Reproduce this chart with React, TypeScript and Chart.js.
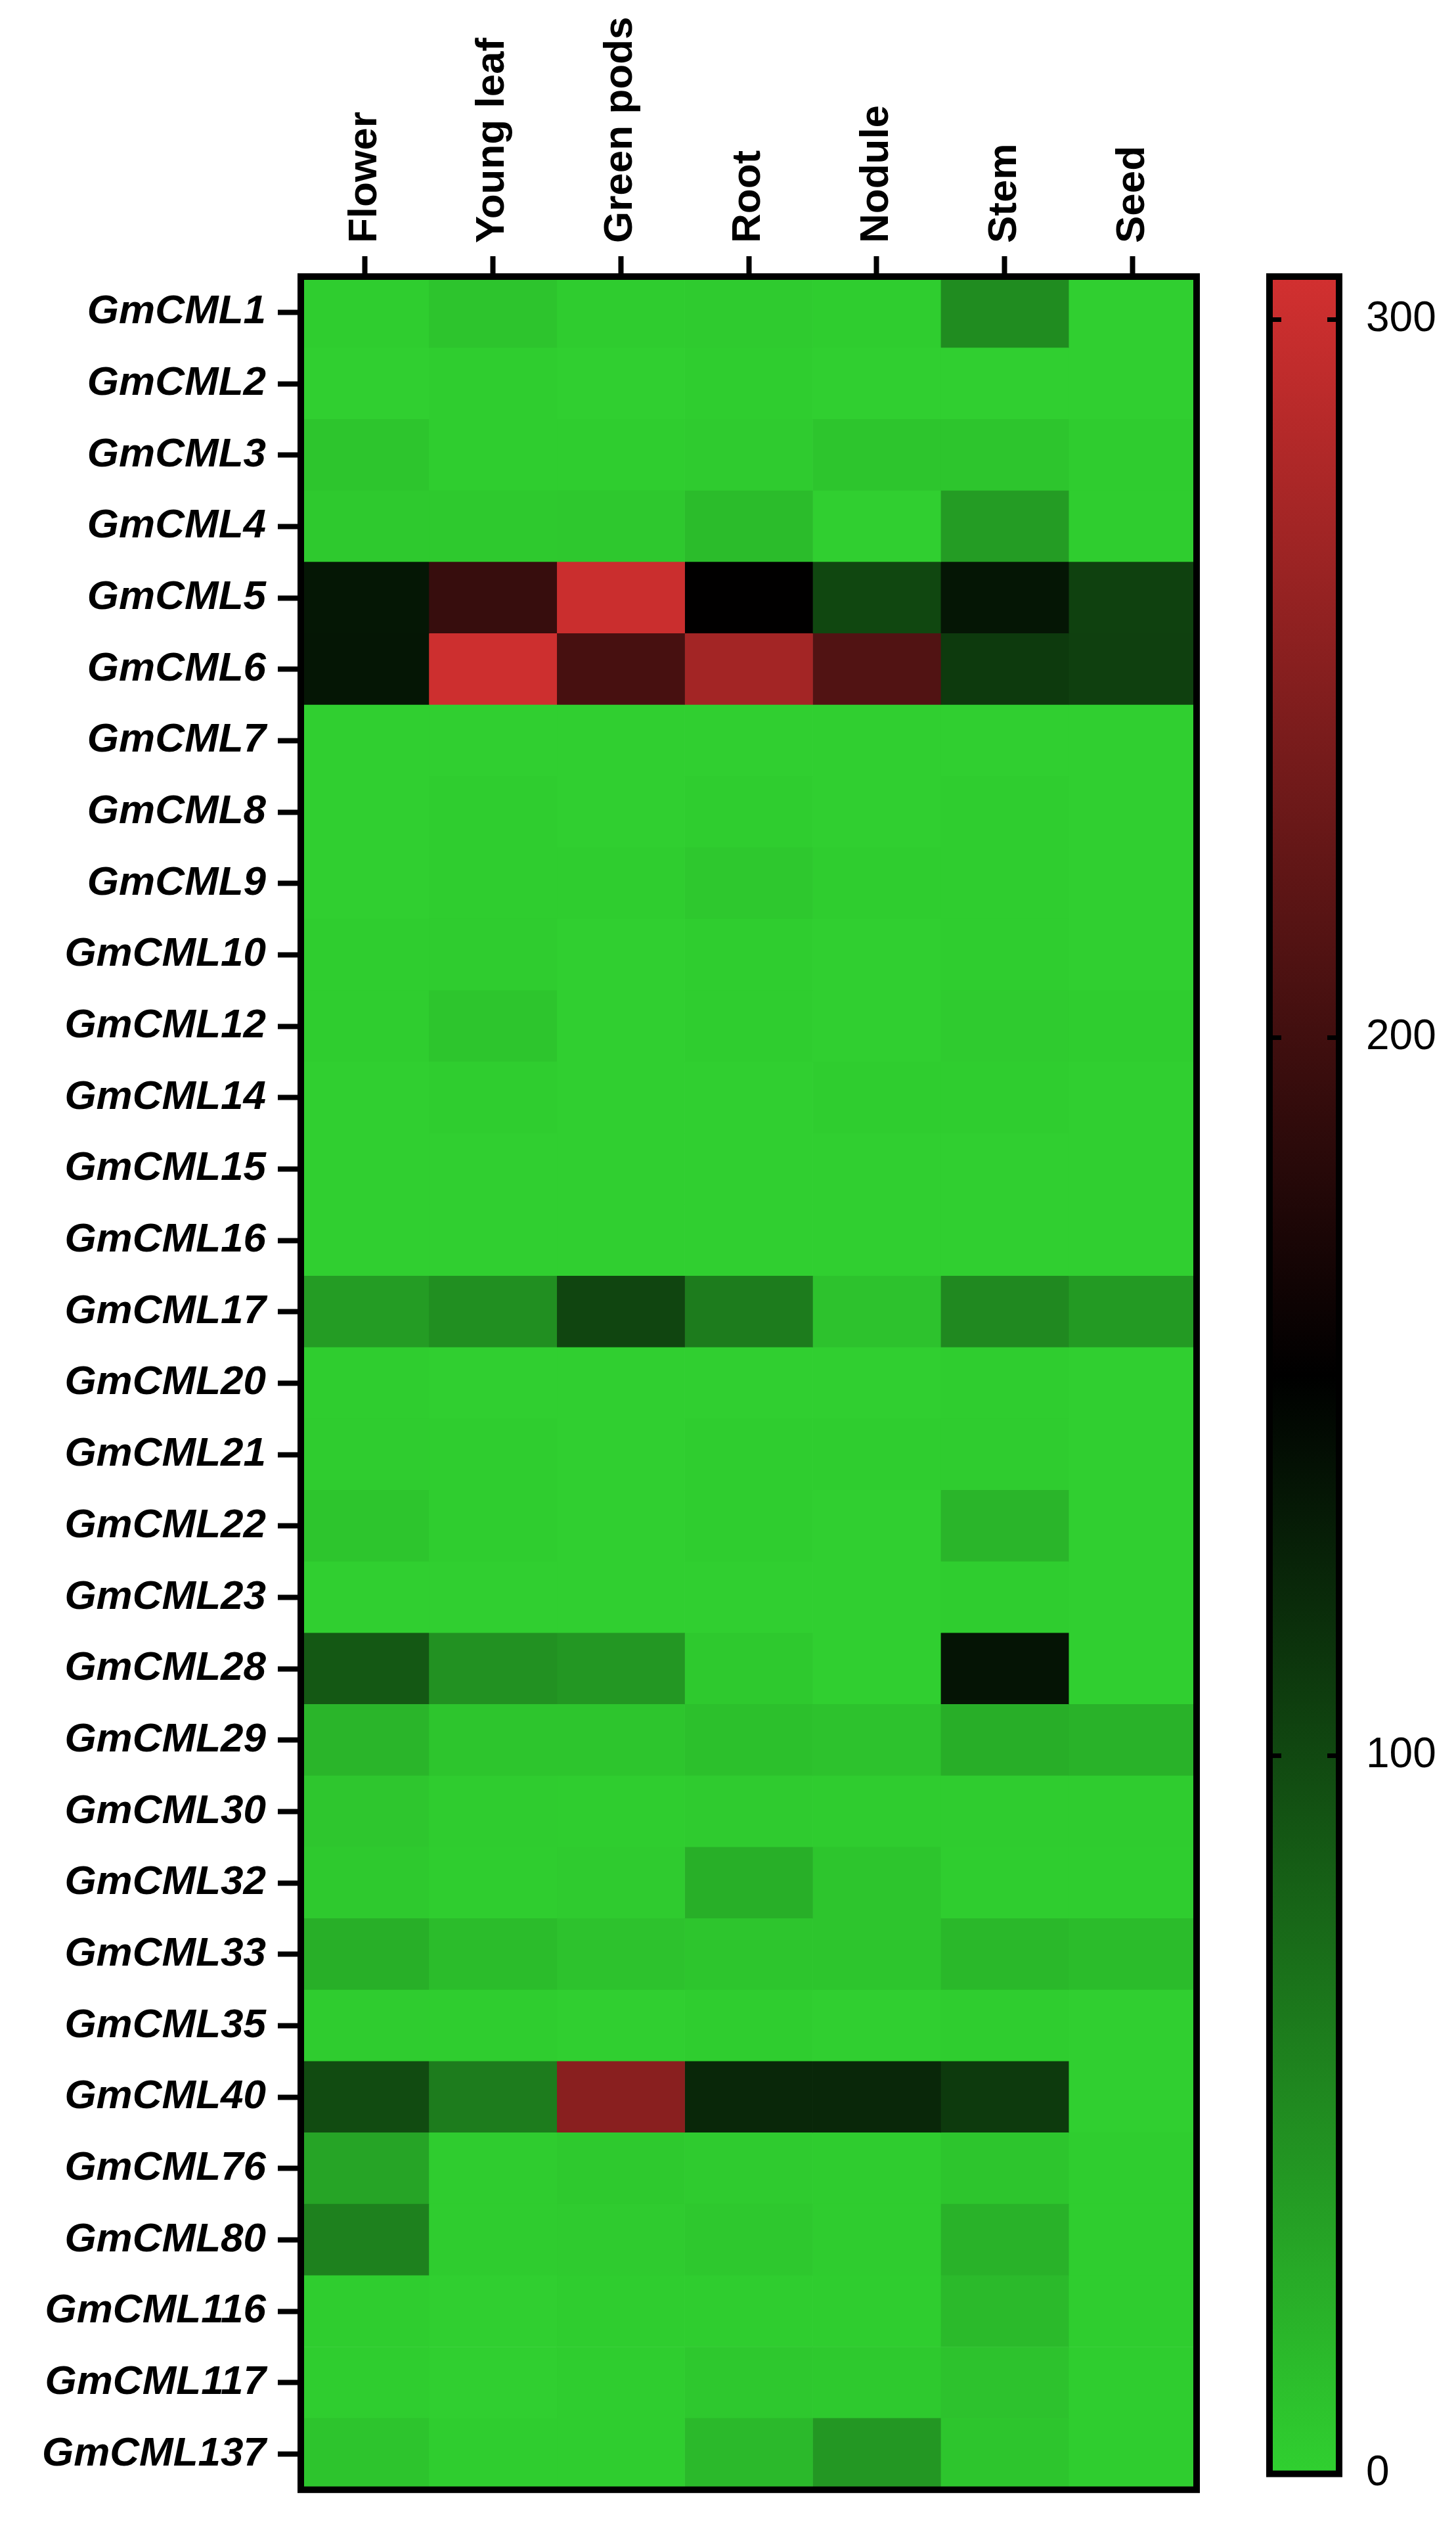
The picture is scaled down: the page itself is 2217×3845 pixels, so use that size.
import React, { useEffect, useRef } from "react";
import { Chart, registerables } from "chart.js";

Chart.register(...registerables);

const tissues = ["Flower", "Young leaf", "Green pods", "Root", "Nodule", "Stem", "Seed"];

const genes = [
  "GmCML1", "GmCML2", "GmCML3", "GmCML4", "GmCML5", "GmCML6", "GmCML7", "GmCML8",
  "GmCML9", "GmCML10", "GmCML12", "GmCML14", "GmCML15", "GmCML16", "GmCML17", "GmCML20",
  "GmCML21", "GmCML22", "GmCML23", "GmCML28", "GmCML29", "GmCML30", "GmCML32", "GmCML33",
  "GmCML35", "GmCML40", "GmCML76", "GmCML80", "GmCML116", "GmCML117", "GmCML137",
];

const flower = [2, 1, 8, 5, 136, 137, 1, 1, 1, 2, 2, 1, 1, 1, 38, 2, 3, 8, 1, 88, 20, 7, 5, 24, 3, 98, 32, 58, 2, 2, 9];
const youngLeaf = [9, 2, 2, 5, 193, 302, 1, 2, 2, 3, 8, 2, 1, 1, 48, 1, 2, 2, 1, 46, 8, 3, 2, 15, 2, 62, 3, 3, 1, 1, 2];
const greenPods = [3, 1, 2, 6, 300, 205, 1, 1, 2, 1, 1, 1, 1, 1, 102, 1, 1, 1, 1, 42, 8, 2, 4, 10, 1, 253, 5, 4, 2, 2, 2];
const root = [4, 2, 4, 15, 154, 272, 1, 2, 6, 2, 2, 1, 1, 1, 62, 1, 2, 2, 1, 5, 12, 4, 24, 8, 2, 124, 4, 6, 2, 6, 17];
const nodule = [2, 1, 8, 1, 101, 212, 1, 1, 2, 1, 1, 2, 1, 1, 10, 1, 2, 1, 1, 1, 10, 3, 8, 8, 1, 124, 3, 3, 2, 5, 42];
const stem = [50, 1, 8, 38, 137, 110, 1, 2, 2, 2, 4, 2, 1, 1, 52, 2, 3, 20, 2, 138, 25, 3, 2, 18, 2, 110, 8, 22, 16, 10, 8];
const seed = [1, 1, 3, 2, 105, 106, 1, 1, 1, 1, 2, 1, 1, 1, 40, 1, 1, 1, 1, 1, 22, 3, 2, 15, 1, 1, 2, 2, 2, 2, 2];

const tissueValues = [flower, youngLeaf, greenPods, root, nodule, stem, seed];

const colorbarTicks = [0, 100, 200, 300];
const colorMin = 0;
const colorMid = 153;
const colorMax = 306;
const lowColor = [48, 208, 48];
const midColor = [0, 0, 0];
const highColor = [210, 48, 48];

const FONT = "'Liberation Sans', Arial, Helvetica, sans-serif";
const X_FONT_SIZE = 62;
const X_LINE_HEIGHT = 1.2;

function mix(a: number[], b: number[], t: number) {
  const c = a.map((v, i) => Math.round(v + (b[i] - v) * t));
  return `rgb(${c[0]},${c[1]},${c[2]})`;
}

function colorFor(v: number) {
  if (v <= colorMid) {
    return mix(lowColor, midColor, Math.max(0, (v - colorMin) / (colorMid - colorMin)));
  }
  return mix(midColor, highColor, Math.min(1, (v - colorMid) / (colorMax - colorMid)));
}

const framePlugin = {
  id: "frame",
  afterDraw(chart: any) {
    const { ctx, chartArea } = chart;
    const { left, top, right, bottom } = chartArea;
    ctx.save();
    ctx.strokeStyle = "#000";
    ctx.lineWidth = 10;
    ctx.strokeRect(left, top, right - left, bottom - top);
    ctx.restore();
  },
};

const colorbarTickPlugin = {
  id: "cbTicks",
  afterDatasetsDraw(chart: any) {
    const { ctx, chartArea } = chart;
    const scale = chart.scales.y;
    ctx.save();
    ctx.strokeStyle = "#000";
    ctx.lineWidth = 7;
    colorbarTicks.forEach((v) => {
      const y = scale.getPixelForValue(v);
      ctx.beginPath();
      ctx.moveTo(chartArea.left, y);
      ctx.lineTo(chartArea.left + 18, y);
      ctx.moveTo(chartArea.right - 18, y);
      ctx.lineTo(chartArea.right, y);
      ctx.stroke();
    });
    ctx.restore();
  },
};

export default function App() {
  const heatRef = useRef<HTMLCanvasElement | null>(null);
  const barRef = useRef<HTMLCanvasElement | null>(null);

  useEffect(() => {
    Chart.defaults.font.family = FONT;
    const heat = new Chart(heatRef.current as HTMLCanvasElement, {
      type: "bar",
      data: {
        labels: genes,
        datasets: tissueValues.map((vals, j) => ({
          label: tissues[j],
          data: genes.map(() => [j, j + 1]),
          backgroundColor: vals.map(colorFor),
          borderWidth: 0,
          barPercentage: 1,
          categoryPercentage: 1,
          grouped: false,
        })),
      } as any,
      options: {
        indexAxis: "y",
        responsive: false,
        animation: false,
        layout: { padding: { left: 0, top: 0, right: 58, bottom: 45 } },
        plugins: { legend: { display: false }, tooltip: { enabled: false } },
        scales: {
          x: {
            type: "linear",
            position: "top",
            min: 0,
            max: tissues.length,
            afterBuildTicks: (s: any) => {
              s.ticks = tissues.map((_, i) => ({ value: i + 0.5 }));
            },
            afterFit: (s: any) => {
              s.height = 421;
            },
            ticks: {
              autoSkip: false,
              minRotation: 90,
              maxRotation: 90,
              padding: 20,
              labelOffset: X_FONT_SIZE * X_LINE_HEIGHT,
              color: "#000",
              font: { family: FONT, size: X_FONT_SIZE, weight: "bold", lineHeight: X_LINE_HEIGHT },
              callback: (_v: any, i: number) => tissues[i],
            },
            grid: {
              drawOnChartArea: false,
              drawTicks: true,
              tickLength: 31,
              tickWidth: 8,
              tickColor: "#000",
            },
            border: { display: false },
          },
          y: {
            type: "category",
            position: "left",
            offset: true,
            afterFit: (s: any) => {
              s.width = 458;
            },
            ticks: {
              autoSkip: false,
              padding: 18,
              color: "#000",
              font: { family: FONT, size: 62, weight: "bold", style: "italic" },
            },
            grid: {
              offset: false,
              drawOnChartArea: false,
              drawTicks: true,
              tickLength: 35,
              tickWidth: 8,
              tickColor: "#000",
            },
            border: { display: false },
          },
        },
      } as any,
      plugins: [framePlugin],
    });

    const bar = new Chart(barRef.current as HTMLCanvasElement, {
      type: "bar",
      data: {
        labels: [""],
        datasets: [
          {
            data: [colorMax],
            backgroundColor: (context: any) => {
              const { chart } = context;
              const { ctx, chartArea } = chart;
              if (!chartArea) return mix(lowColor, lowColor, 0);
              const g = ctx.createLinearGradient(0, chartArea.bottom, 0, chartArea.top);
              g.addColorStop(0, mix(lowColor, lowColor, 0));
              g.addColorStop((colorMid - colorMin) / (colorMax - colorMin), mix(midColor, midColor, 0));
              g.addColorStop(1, mix(highColor, highColor, 0));
              return g;
            },
            borderWidth: 0,
            barPercentage: 1,
            categoryPercentage: 1,
          },
        ],
      },
      options: {
        responsive: false,
        animation: false,
        layout: { padding: { left: 53, top: 421, right: 0, bottom: 45 } },
        plugins: { legend: { display: false }, tooltip: { enabled: false } },
        scales: {
          x: { display: false },
          y: {
            position: "right",
            min: colorMin,
            max: colorMax,
            afterBuildTicks: (s: any) => {
              s.ticks = colorbarTicks.map((v) => ({ value: v }));
            },
            afterFit: (s: any) => {
              s.width = 178;
            },
            ticks: {
              padding: 41,
              color: "#000",
              font: { family: FONT, size: 64 },
            },
            grid: { display: false, drawTicks: false },
            border: { display: false },
          },
        },
      } as any,
      plugins: [colorbarTickPlugin, framePlugin],
    });

    return () => {
      heat.destroy();
      bar.destroy();
    };
  }, []);

  return (
    <div style={{ position: "absolute", left: 0, top: 0, width: 2217, height: 3845, background: "#fff" }}>
      <canvas
        ref={heatRef}
        width={1880}
        height={3845}
        style={{ position: "absolute", left: 0, top: 0, width: 1880, height: 3845 }}
      />
      <canvas
        ref={barRef}
        width={337}
        height={3845}
        style={{ position: "absolute", left: 1880, top: 0, width: 337, height: 3845 }}
      />
    </div>
  );
}
